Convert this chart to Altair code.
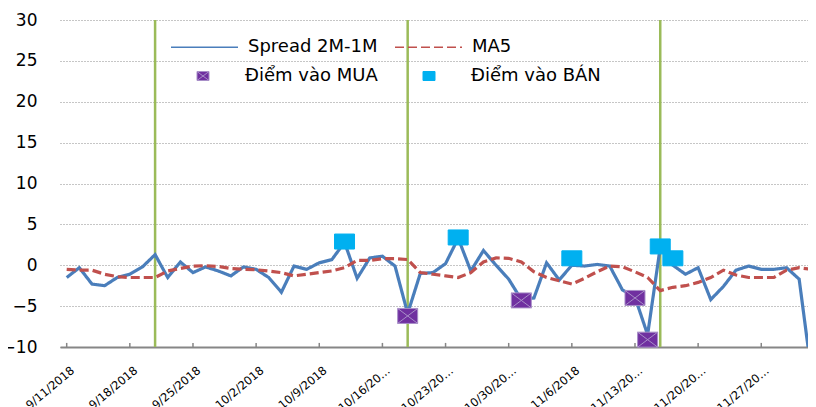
import altair as alt
import pandas as pd

spread = [-1.5, -0.3, -2.3, -2.5, -1.5, -1.1, -0.2, 1.3, -1.5, 0.4,
          -0.9, -0.2, -0.7, -1.3, -0.2, -0.5, -1.5, -3.3, -0.1, -0.5,
          0.3, 0.7, 2.8, -1.6, 0.9, 1.1, -0.1, -5.9, -1.0, -0.9,
          0.2, 3.3, -0.7, 1.8, 0.0, -1.7, -4.2, -4.0, 0.3, -1.8,
          0.0, -0.1, 0.1, -0.1, -3.0, -3.9, -8.5, 2.2, 0.0, -1.1,
          -0.3, -4.2, -2.6, -0.6, -0.1, -0.5, -0.5, -0.3, -1.7, -13.5]
ma5 = [-0.5, -0.6, -0.6, -1.1, -1.4, -1.5, -1.5, -1.5, -0.7, -0.4,
       -0.1, -0.05, -0.15, -0.4, -0.5, -0.55, -0.7, -0.9, -1.3, -1.1,
       -0.9, -0.7, -0.3, 0.6, 0.6, 0.8, 0.8, 0.7, -0.9, -1.1,
       -1.3, -1.5, -0.9, 0.4, 0.9, 0.85, 0.4, -0.8, -1.5, -1.9,
       -2.3, -1.6, -0.8, -0.1, -0.2, -0.8, -1.5, -3.1, -2.7, -2.5,
       -2.1, -1.5, -0.6, -1.2, -1.5, -1.5, -1.5, -0.6, -0.3, -0.5]
buy_idx = [27, 36, 45, 46]
buy_val = [-6.2, -4.3, -4.0, -9.1]
sell_idx = [22, 31, 40, 47, 48]
sell_val = [2.9, 3.4, 0.85, 2.3, 0.85]
expiry_idx = [7, 27, 47]
tick_idx = [0, 5, 10, 15, 20, 25, 30, 35, 40, 45, 50, 55]
tick_labels = ["9/11/2018", "9/18/2018", "9/25/2018", "10/2/2018", "10/9/2018",
               "10/16/20…", "10/23/20…", "10/30/20…", "11/6/2018", "11/13/20…",
               "11/20/20…", "11/27/20…"]
line_names = ["Spread 2M-1M", "MA5"]
line_colors = ["#4a7ebb", "#c0504d"]
point_names = ["Điểm vào MUA", "Điểm vào BÁN"]
point_fill = ["#7030a0", "#00b0f0"]
point_stroke = ["#a88fc8", "#00b0f0"]
FONT = "DejaVu Sans"

n = len(spread)
day = list(range(n))
lines_df = pd.DataFrame({"day": day * 2, "value": spread + ma5,
                         "series": [line_names[0]] * n + [line_names[1]] * n})
pts_df = pd.DataFrame({"day": buy_idx + sell_idx, "value": buy_val + sell_val,
                       "kind": [point_names[0]] * len(buy_idx) + [point_names[1]] * len(sell_idx)})
exp_df = pd.DataFrame({"day": expiry_idx})
tick_df = pd.DataFrame({"day": tick_idx})

label_expr = "[" + ",".join("'" + t + "'" for t in tick_labels) + "][round(datum.value/5)]"

xscale = alt.Scale(domain=[-0.53, 58.7], nice=False, zero=False)
yscale = alt.Scale(domain=[-10, 30], nice=False, zero=False)

X = alt.X("day:Q", scale=xscale, title=None,
          axis=alt.Axis(values=tick_idx, labelExpr=label_expr, labelAngle=-40,
                        labelAlign="right", labelBaseline="middle", ticks=False,
                        labelPadding=22, labelOffset=6, labelFontSize=11.5, labelFont=FONT,
                        labelColor="#000", domainColor="#868686", domainWidth=2,
                        grid=False, labelOverlap=False, labelFlush=False))
Y = alt.Y("value:Q", scale=yscale, title=None,
          axis=alt.Axis(values=[-10, -5, 0, 5, 10, 15, 20, 25, 30], domain=False, ticks=False,
                        labelFontSize=17, labelFont=FONT, labelColor="#000", labelPadding=23,
                        grid=True, gridDash=[1, 2], gridColor="#8c8c8c", gridWidth=1))

leg_lines = alt.Legend(title=None, orient="none", legendX=110, legendY=-7.5, direction="horizontal",
                       columns=2, symbolType="stroke", symbolSize=4489, symbolStrokeWidth=1.5,
                       labelFont=FONT, labelFontSize=18, labelColor="#000", labelOffset=9,
                       columnPadding=14)
leg_pts = alt.Legend(title=None, orient="none", legendX=134, legendY=47, direction="horizontal",
                     columns=2, symbolSize=144, symbolStrokeWidth=1,
                     labelFont=FONT, labelFontSize=18, labelColor="#000", labelOffset=33,
                     columnPadding=42)

shape_mua = "M-1,-0.75L1,-0.75L1,0.75L-1,0.75Z M-1,-0.75L1,0.75 M-1,0.75L1,-0.75"
shape_ban = "M-1,-0.75L1,-0.75L1,0.75L-1,0.75Z"

rules = alt.Chart(exp_df).mark_rule(color="#9bbb59", strokeWidth=2.5).encode(x=X)
ticks = alt.Chart(tick_df).mark_rule(color="#868686", strokeWidth=1.5).encode(
    x=X, y=alt.datum(-10), y2=alt.datum(-9.5))

base = alt.Chart(lines_df).mark_line(strokeWidth=3.2, clip=True).encode(
    x=X, y=Y,
    color=alt.Color("series:N", scale=alt.Scale(domain=line_names, range=line_colors), legend=leg_lines),
    strokeDash=alt.StrokeDash("series:N", scale=alt.Scale(domain=line_names, range=[[1, 0], [9, 4]]),
                              legend=leg_lines),
)
blue = base.transform_filter(alt.datum.series == line_names[0])
red = base.transform_filter(alt.datum.series == line_names[1])

points = alt.Chart(pts_df).mark_point(filled=True, strokeWidth=1, opacity=1).encode(
    x=X, y=Y,
    size=alt.Size("kind:N", scale=alt.Scale(domain=point_names[::-1], range=[400, 400]), legend=None),
    fill=alt.Fill("kind:N", scale=alt.Scale(domain=point_names, range=point_fill), legend=leg_pts),
    stroke=alt.Stroke("kind:N", scale=alt.Scale(domain=point_names, range=point_stroke), legend=leg_pts),
    shape=alt.Shape("kind:N", scale=alt.Scale(domain=point_names, range=[shape_mua, shape_ban]),
                    legend=leg_pts),
)

chart = alt.layer(rules, ticks, blue, red, points).properties(
    width=748, height=327,
    padding={"left": 52, "top": 12, "right": 0, "bottom": 60},
    autosize=alt.AutoSizeParams(type="none"),
).configure_view(stroke=None)

chart.save("out.html", embed_options={"renderer": "svg", "actions": False})
